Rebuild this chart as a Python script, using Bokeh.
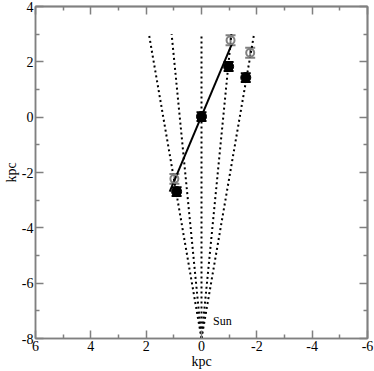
from bokeh.plotting import figure
from bokeh.models import Range1d, LinearAxis, Whisker, ColumnDataSource, TeeHead, FixedTicker, Label
from bokeh.embed import file_html
from bokeh.resources import INLINE

# ---- data ----
x_ticks = [6, 4, 2, 0, -2, -4, -6]
x_minor = [5, 3, 1, -1, -3, -5]
y_ticks = [4, 2, 0, -2, -4, -6, -8]
y_minor = [3, 1, -1, -3, -5, -7]
tick_labels = {6: "6", 4: "4", 2: "2", 0: "0", -2: "-2", -4: "-4", -6: "-6", -8: "-8"}

sun_x, sun_y = 0.0, -8.0
sight_end_x = [1.9, 1.08, 0.0, -1.08, -1.9]
sight_end_y = [3.0, 3.0, 3.0, 3.0, 3.0]

fit_x = [1.15, -1.10]
fit_y = [-2.69, 2.65]

gray_x = [-1.05, -1.76, 0.98]
gray_y = [2.78, 2.33, -2.23]
gray_err = [0.18, 0.18, 0.18]

black_x = [-0.98, -1.60, 0.0, 0.90]
black_y = [1.83, 1.43, 0.02, -2.69]
black_err = [0.16, 0.16, 0.16, 0.16]

sun_label_x, sun_label_y = -0.42, -7.35

FONT = "Liberation Serif"
AX = "#808080"

p = figure(width=374, height=371, x_range=Range1d(6, -6), y_range=Range1d(-8, 4),
           output_backend="svg", toolbar_location=None,
           min_border_left=0, min_border_right=7, min_border_top=6, min_border_bottom=0)
p.xgrid.visible = False
p.ygrid.visible = False
p.outline_line_color = AX
p.outline_line_width = 1.5


def base_style(ax):
    ax.axis_line_color = AX
    ax.axis_line_width = 1.5
    ax.major_tick_line_color = AX
    ax.minor_tick_line_color = AX
    ax.major_tick_line_width = 1.5
    ax.minor_tick_line_width = 1.5
    ax.major_tick_out = 0
    ax.minor_tick_out = 0


def style_axis(ax, ticks, minor):
    base_style(ax)
    ax.ticker = FixedTicker(ticks=ticks, minor_ticks=minor)
    ax.major_tick_in = 8
    ax.minor_tick_in = 4
    ax.major_label_text_font = FONT
    ax.major_label_text_font_size = "14px"
    ax.major_label_text_color = "black"
    ax.major_label_standoff = 2
    ax.major_label_overrides = tick_labels
    ax.axis_label_text_font = FONT
    ax.axis_label_text_font_size = "14px"
    ax.axis_label_text_font_style = "normal"
    ax.axis_label_text_color = "black"
    ax.axis_label_standoff = 0


def mirror_axis(positions, length):
    # label-free axis: ticks drawn as minor ticks only
    ax = LinearAxis()
    base_style(ax)
    ax.ticker = FixedTicker(ticks=[], minor_ticks=positions)
    ax.minor_tick_in = length
    ax.major_label_standoff = 0
    return ax


style_axis(p.xaxis[0], x_ticks, x_minor)
style_axis(p.yaxis[0], y_ticks, y_minor)
p.xaxis.axis_label = "kpc"
p.yaxis.axis_label = "kpc"
p.yaxis.major_label_orientation = "horizontal"

p.add_layout(mirror_axis(x_ticks, 8), "above")
p.add_layout(mirror_axis(x_minor, 4), "above")
p.add_layout(mirror_axis(y_ticks, 8), "right")
p.add_layout(mirror_axis(y_minor, 4), "right")

# lines of sight from the Sun
xs = [[sun_x, ex] for ex in sight_end_x]
ys = [[sun_y, ey] for ey in sight_end_y]
p.multi_line(xs, ys, line_color="black", line_width=2, line_dash="2 3")

# fitted line
p.line(fit_x, fit_y, line_color="black", line_width=2)

# gray points
gsrc = ColumnDataSource(dict(x=gray_x, y=gray_y,
                             lo=[a - b for a, b in zip(gray_y, gray_err)],
                             hi=[a + b for a, b in zip(gray_y, gray_err)]))
p.add_layout(Whisker(source=gsrc, base="x", lower="lo", upper="hi", dimension="height",
                     line_color="#808080", line_width=2,
                     lower_head=TeeHead(size=10, line_color="#808080", line_width=2),
                     upper_head=TeeHead(size=10, line_color="#808080", line_width=2)))
p.scatter("x", "y", source=gsrc, size=8, fill_color=None, line_color="#808080", line_width=2)

# black points
bsrc = ColumnDataSource(dict(x=black_x, y=black_y,
                             lo=[a - b for a, b in zip(black_y, black_err)],
                             hi=[a + b for a, b in zip(black_y, black_err)]))
p.add_layout(Whisker(source=bsrc, base="x", lower="lo", upper="hi", dimension="height",
                     line_color="black", line_width=2,
                     lower_head=TeeHead(size=10, line_color="black", line_width=2),
                     upper_head=TeeHead(size=10, line_color="black", line_width=2)))
p.scatter("x", "y", source=bsrc, size=10, fill_color="black", line_color="black")

p.add_layout(Label(x=sun_label_x, y=sun_label_y, text="Sun", text_font=FONT, text_font_size="12px",
                   text_color="black", text_align="left", text_baseline="middle"))

open("out.html", "w").write(file_html(p, INLINE))
